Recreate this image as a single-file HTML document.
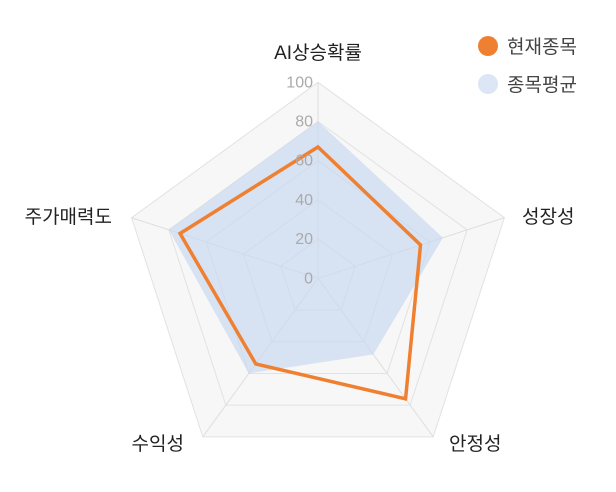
<!DOCTYPE html>
<html><head><meta charset="utf-8"><style>
body{margin:0;background:#fff;font-family:"Liberation Sans","Noto Sans CJK KR",sans-serif;}
svg{display:block}
</style></head><body>
<svg id="chart" width="616" height="492">
<g id="grid"></g>
<g id="series"></g>
<g id="labels"></g>
<g>
 <g><circle cx="488" cy="46" r="10" fill="#f08031"/><text x="507" y="53" font-size="19" fill="#444">현재종목</text></g>
 <g><circle cx="488" cy="84" r="10" fill="#dce6f4"/><text x="507" y="91" font-size="19" fill="#444">종목평균</text></g>
</g>
</svg>
<script>
const categories=["AI상승확률","성장성","안정성","수익성","주가매력도"];
const currentValues=[67,55,76,54,74];
const averageValues=[80,67,48,60,80];
const tickLabels=[0,20,40,60,80,100];
const maxValue=100;
const cx=318,cy=278.3,R=196;
const NS="http://www.w3.org/2000/svg";
function ang(i){return -Math.PI/2+i*2*Math.PI/categories.length;}
function pt(i,v){const r=v/maxValue*R;return [cx+r*Math.cos(ang(i)),cy+r*Math.sin(ang(i))];}
function mk(tag,attrs,parent){const e=document.createElementNS(NS,tag);for(const k in attrs)e.setAttribute(k,attrs[k]);parent.appendChild(e);return e;}
const grid=document.getElementById('grid');
for(let t=tickLabels.length-1;t>=1;t--){
 const v=tickLabels[t];
 const p=categories.map((c,i)=>pt(i,v).join(',')).join(' ');
 const poly=mk('polygon',{points:p,fill:'#f7f7f7',stroke:'#e2e2e2','stroke-width':1},grid);
 
 
}
categories.forEach((c,i)=>{const[x,y]=pt(i,maxValue);const l=mk('line',{x1:cx,y1:cy,x2:x,y2:y,stroke:'#dedede','stroke-width':1},grid);
 
 });
const series=document.getElementById('series');
const avg=mk('polygon',{points:averageValues.map((v,i)=>pt(i,v).join(',')).join(' '),fill:'#c9d9f0','fill-opacity':0.7,stroke:'none'},series);


const cur=mk('polygon',{points:currentValues.map((v,i)=>pt(i,v).join(',')).join(' '),fill:'none',stroke:'#f08031','stroke-width':3.5,'stroke-linejoin':'miter'},series);


const labels=document.getElementById('labels');
tickLabels.forEach(v=>{const y=cy-v/maxValue*R;const t=mk('text',{x:cx-5,y:y+5,'text-anchor':'end','font-size':16,fill:'#aaa'},labels);t.textContent=v;
 
 });
const labelPos=[[318,59,'middle'],[522,223,'start'],[449,450,'start'],[184,450,'end'],[112,223,'end']];
categories.forEach((c,i)=>{const p=labelPos[i];const t=mk('text',{x:p[0],y:p[1],'text-anchor':p[2],'font-size':19,fill:'#222'},labels);t.textContent=c;
 
 });
</script>
</body></html>
